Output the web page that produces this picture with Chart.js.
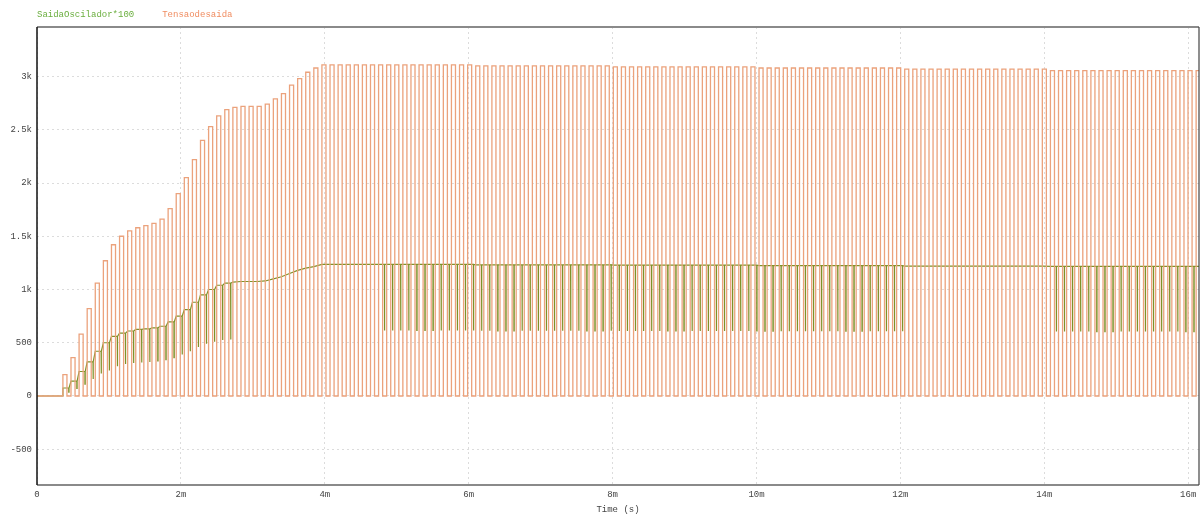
<!DOCTYPE html>
<html>
<head>
<meta charset="utf-8">
<script src="https://cdn.jsdelivr.net/npm/chart.js@4.4.1/dist/chart.umd.min.js"></script>
<style>
html,body{margin:0;padding:0;background:#fff;}
#wrap{width:1204px;height:515px;}
</style>
</head>
<body>
<div id="wrap"><canvas id="c" width="1204" height="515"></canvas></div>
<script>
// ---- data (time in ms) ----
const seriesNames = ['SaidaOscilador*100', 'Tensaodesaida'];
const switchPeriod = 0.1125;     // ms per switching cycle
const firstCycle = 0.36;         // ms, first pulse
const lastTime = 16.15;          // ms, right edge of the plot

// Tensaodesaida: peak of each cycle during the start-up ramp
const outRampPeaks = [200,360,580,820,1060,1270,1420,1500,1550,1580,1600,1620,1660,1760,1900,2050,2220,2400,2530,2630,2690,2710,2720,2720,2720,2740,2790,2840,2920,2980,3040,3080];
// Tensaodesaida: plateau peaks (held from each time on)
const plateauTimes = [3.96, 6, 8, 10, 12, 14];
const outPlateauPeaks = [3110, 3100, 3090, 3080, 3070, 3055];

// SaidaOscilador*100: high level per ramp cycle, dip level per ramp cycle
const oscRampHigh = [75,140,230,320,420,500,560,590,610,625,630,640,655,695,750,810,880,950,1000,1040,1060,1070,1075,1075,1075,1080,1100,1120,1150,1180,1200,1215];
const oscRampLow  = [35,70,110,160,210,240,280,300,310,315,320,330,340,360,390,420,460,490,510,525,530];
const oscPlateauHigh = [1235, 1232, 1228, 1224, 1220, 1218];
const oscPlateauLow  = [615, 612, 610, 608, 606, 605];
// time windows where the oscillator dips are visible
const oscDipWindows = [[0.36, 2.65], [4.72, 11.95], [14.08, 16.2]];

// axes
const xTickValues = [0, 2, 4, 6, 8, 10, 12, 14, 16];
const xTickLabels = ['0', '2m', '4m', '6m', '8m', '10m', '12m', '14m', '16m'];
const yTickValues = [-500, 0, 500, 1000, 1500, 2000, 2500, 3000];
const yTickLabels = ['-500', '0', '500', '1k', '1.5k', '2k', '2.5k', '3k'];
const yMin = -836, yMax = 3465;

// ---- building the traces ----
function held(times, vals, t) {
  let v = vals[0];
  for (let i = 0; i < times.length; i++) if (t >= times[i]) v = vals[i];
  return v;
}
function inDip(t) {
  return oscDipWindows.some(w => t >= w[0] && t <= w[1]);
}
const outPts = [{x: 0, y: 0}];
const oscPts = [{x: 0, y: 0}, {x: firstCycle, y: 0}];
for (let k = 0; ; k++) {
  const t = firstCycle + k * switchPeriod;
  if (t >= lastTime) break;
  const peak = k < outRampPeaks.length ? outRampPeaks[k] : held(plateauTimes, outPlateauPeaks, t);
  const tf = t + switchPeriod / 2;
  outPts.push({x: t, y: 0}, {x: t, y: peak}, {x: tf, y: peak}, {x: tf, y: 0});

  const hi = k < oscRampHigh.length ? oscRampHigh[k] : held(plateauTimes, oscPlateauHigh, t);
  oscPts.push({x: t, y: hi});
  if (inDip(t)) {
    const lo = k < oscRampLow.length ? oscRampLow[k] : held(plateauTimes, oscPlateauLow, t);
    const ts = t + 0.72 * switchPeriod;
    oscPts.push({x: ts, y: hi}, {x: ts, y: lo}, {x: ts + 0.004, y: lo}, {x: ts + 0.004, y: hi});
  }
}
outPts.push({x: lastTime, y: 0});
oscPts.push({x: lastTime, y: oscPts[oscPts.length - 1].y});

const monoFont = {family: "'Liberation Mono', 'DejaVu Sans Mono', monospace", size: 9};
const legendColors = ['#6aae3e', '#f08c60'];

const framePlugin = {
  id: 'frame',
  afterDraw(chart) {
    const {ctx, chartArea: a} = chart;
    ctx.save();
    ctx.lineWidth = 2;
    ctx.strokeStyle = '#8a8a8a';
    ctx.beginPath();
    ctx.moveTo(a.left, a.top); ctx.lineTo(a.right, a.top);
    ctx.moveTo(a.left, a.bottom); ctx.lineTo(a.right, a.bottom);
    ctx.stroke();
    ctx.lineWidth = 1.5;
    ctx.strokeStyle = '#111';
    ctx.beginPath();
    ctx.moveTo(a.left, a.top); ctx.lineTo(a.left, a.bottom);
    ctx.stroke();
    ctx.lineWidth = 1.2;
    ctx.strokeStyle = '#444';
    ctx.beginPath();
    ctx.moveTo(a.right, a.top); ctx.lineTo(a.right, a.bottom);
    ctx.stroke();
    // legend texts
    ctx.font = "9px 'Liberation Mono', 'DejaVu Sans Mono', monospace";
    ctx.textBaseline = 'middle';
    ctx.textAlign = 'left';
    let x = 37;
    chart.data.datasets.forEach((ds, i) => {
      ctx.fillStyle = legendColors[i];
      ctx.fillText(ds.label, x, 15);
      x += ctx.measureText(ds.label).width + 28;
    });
    ctx.restore();
  }
};

new Chart(document.getElementById('c'), {
  type: 'line',
  data: {
    datasets: [
      {label: seriesNames[0], data: oscPts, borderColor: '#7f9128', borderWidth: 1.2, pointRadius: 0, tension: 0, order: 2, parsing: false},
      {label: seriesNames[1], data: outPts, borderColor: '#eba27c', borderWidth: 1.3, pointRadius: 0, tension: 0, order: 1, parsing: false}
    ]
  },
  options: {
    responsive: false,
    animation: false,
    events: [],
    layout: {padding: {top: 27, right: 5, left: 0, bottom: 0}},
    plugins: {legend: {display: false}, tooltip: {enabled: false}},
    scales: {
      x: {
        type: 'linear', min: 0, max: lastTime,
        afterBuildTicks: s => { s.ticks = xTickValues.map(v => ({value: v})); },
        afterFit: s => { s.height = 30; },
        ticks: {
          autoSkip: false, maxRotation: 0, padding: 4, color: '#444', font: monoFont,
          callback: v => xTickLabels[xTickValues.indexOf(v)]
        },
        grid: {color: '#dcdcdc', lineWidth: 1, drawTicks: false},
        border: {display: false, dash: [2, 3]},
        title: {display: true, text: 'Time (s)', color: '#444', font: monoFont, padding: {top: 1, bottom: 0}}
      },
      y: {
        min: yMin, max: yMax,
        afterBuildTicks: s => { s.ticks = yTickValues.map(v => ({value: v})); },
        afterFit: s => { s.width = 37; },
        ticks: {
          padding: 5, color: '#444', font: monoFont,
          callback: v => yTickLabels[yTickValues.indexOf(v)]
        },
        grid: {color: '#dcdcdc', lineWidth: 1, drawTicks: false},
        border: {display: false, dash: [2, 3]}
      }
    }
  },
  plugins: [framePlugin]
});
</script>
</body>
</html>
